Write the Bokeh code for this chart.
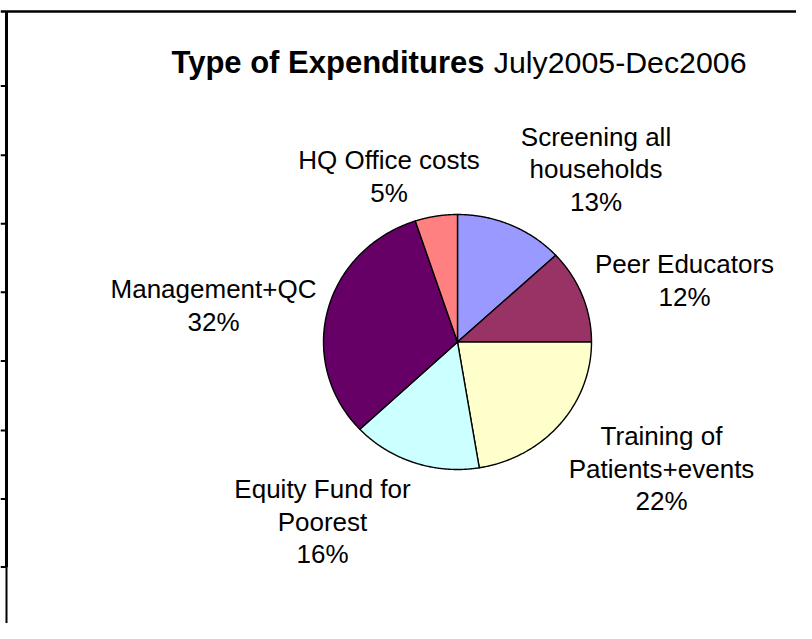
import numpy as np
from bokeh.plotting import figure
from bokeh.models import Range1d
from bokeh.core.properties import value
from bokeh.embed import file_html
from bokeh.resources import INLINE

# ---- data ----
categories = ["Screening all\nhouseholds", "Peer Educators", "Training of\nPatients+events",
              "Equity Fund for\nPoorest", "Management+QC", "HQ Office costs"]
values = [13.1, 11.9, 22.4, 15.6, 31.9, 5.1]
colors = ["#9999FF", "#993366", "#FFFFCC", "#CCFFFF", "#660066", "#FF8080"]
title_bold = "Type of Expenditures"
title_rest = "July2005-Dec2006"

# ---- layout (reference pixel coordinates) ----
W, H = 796, 623
cx, cy, rx, ry = 457.0, 341.5, 134.0, 127.5
label_pos = [(595.5, 168.5), (684.0, 280.0), (661.0, 468.0),
             (322.0, 521.0), (213.0, 305.0), (388.5, 176.0)]
line_gap = 32.5
FONT = "Liberation Sans"

p = figure(width=W, height=H, output_backend="svg", toolbar_location=None,
           x_range=Range1d(0, W), y_range=Range1d(H, 0),
           min_border=0, outline_line_color=None, background_fill_color="white",
           border_fill_color="white")
p.axis.visible = False
p.grid.visible = False

# pie slices
total = float(sum(values))
fr = np.cumsum([0.0] + [v / total for v in values])
xs, ys = [], []
for i in range(len(values)):
    th = np.pi / 2 - 2 * np.pi * np.linspace(fr[i], fr[i + 1], 120)
    xs.append([cx] + list(cx + rx * np.cos(th)) + [cx])
    ys.append([cy] + list(cy - ry * np.sin(th)) + [cy])
p.patches(xs, ys, fill_color=colors, line_color="black", line_width=1.4, line_join="round")

# labels
tx, ty, tt = [], [], []
for cat, v, (lx, ly) in zip(categories, values, label_pos):
    lines = cat.split("\n") + [f"{round(v / total * 100)}%"]
    n = len(lines)
    for k, s in enumerate(lines):
        tx.append(lx)
        ty.append(ly + (k - (n - 1) / 2) * line_gap)
        tt.append(s)
p.text(tx, ty, text=tt, text_font=value(FONT), text_font_size="26px",
       text_align="center", text_baseline="middle", text_color="black")

# title
p.text([171], [62], text=[title_bold], text_font=value(FONT), text_font_size="31px",
       text_font_style="bold", text_align="left", text_baseline="alphabetic", text_color="black")
p.text([746], [62], text=[title_rest], text_font=value(FONT), text_font_size="30.3px",
       text_align="right", text_baseline="alphabetic", text_color="black")

# spreadsheet frame lines
p.line([0, W], [11, 11], line_color="black", line_width=2.5)
p.line([6, 6], [11, 567], line_color="black", line_width=3)
p.line([6, 6], [567, H], line_color="black", line_width=2)
row_y = [85.6, 154.8, 223.3, 291.8, 360.6, 429.9, 498.4, 566.4]
p.segment(x0=[0] * len(row_y), y0=row_y, x1=[6] * len(row_y), y1=row_y,
          line_color="black", line_width=2)

open("out.html", "w").write(file_html(p, INLINE))
